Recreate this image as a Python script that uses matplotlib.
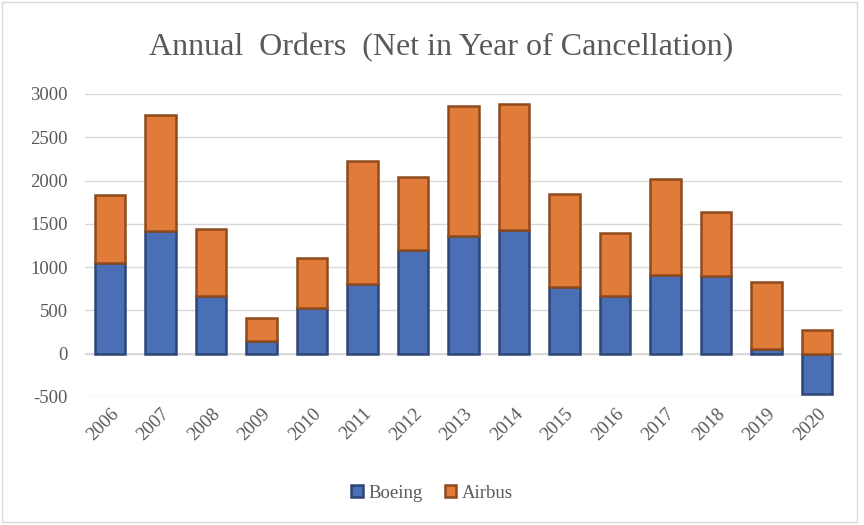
import matplotlib.pyplot as plt
from matplotlib.patches import Rectangle
import numpy as np

years = ['2006', '2007', '2008', '2009', '2010', '2011', '2012', '2013',
         '2014', '2015', '2016', '2017', '2018', '2019', '2020']
boeing = [1044, 1413, 662, 142, 530, 805, 1203, 1355,
          1432, 768, 668, 912, 893, 54, -471]
airbus = [790, 1341, 777, 271, 574, 1419, 833, 1503,
          1456, 1080, 731, 1109, 747, 768, 268]
yticks = [-500, 0, 500, 1000, 1500, 2000, 2500, 3000]

BLUE = '#4a6fb5'
BLUE_DARK = '#2c4677'
ORANGE = '#e07b39'
ORANGE_DARK = '#8f4a1c'
TEXT = '#595959'

plt.rcParams['font.family'] = ['Liberation Serif', 'DejaVu Serif']
plt.rcParams['axes.unicode_minus'] = False


def draw_bars(axis, x, values, bottom, color, edge, label):
    axis.bar(x, values, bottom=bottom, width=0.6, color=color,
             edgecolor=edge, linewidth=1.8, label=label, zorder=3)
    return axis


def main():
    fig = plt.figure(figsize=(8.64, 5.25), dpi=100)
    ax = fig.add_axes([0.098, 0.244, 0.877, 0.577])

    x = np.arange(len(years))
    b = np.array(boeing)
    a = np.array(airbus)

    draw_bars(ax, x, b, 0, BLUE, BLUE_DARK, 'Boeing')
    draw_bars(ax, x, a, np.maximum(b, 0), ORANGE, ORANGE_DARK, 'Airbus')

    ax.set_xlim(-0.5, len(years) - 0.5)
    ax.set_ylim(-500, 3000)
    ax.set_yticks(yticks)
    ax.set_xticks(x)
    ax.set_xticklabels(years, rotation=45, ha='right',
                       rotation_mode='anchor')
    ax.tick_params(axis='both', length=0, labelsize=13.5, colors=TEXT)
    ax.tick_params(axis='x', pad=6)
    ax.tick_params(axis='y', pad=12)
    ax.grid(True, axis='y', color='#d9d9d9', lw=1, zorder=0)
    for side in ['top', 'right', 'left', 'bottom']:
        ax.spines[side].set_visible(False)
    ax.axhline(0, color='#d0d0d0', lw=1.2, zorder=1)

    # title is centred on the chart area, not on the plot area
    fig.text(0.51, 0.91, 'Annual  Orders  (Net in Year of Cancellation)',
             fontsize=23, color=TEXT, ha='center', va='center')

    fig.legend(loc='lower center', bbox_to_anchor=(0.5, 0.012), ncol=2,
               frameon=False, fontsize=13.5, handlelength=0.6,
               handleheight=0.6, handletextpad=0.3, columnspacing=1.2,
               labelcolor=TEXT)

    fig.patches.append(Rectangle((0.002, 0.006), 0.99, 0.99,
                                 transform=fig.transFigure, fill=False,
                                 edgecolor='#d9d9d9', lw=1))

    fig.savefig('out.png', dpi=100)
    plt.close(fig)


if __name__ == '__main__':
    main()
